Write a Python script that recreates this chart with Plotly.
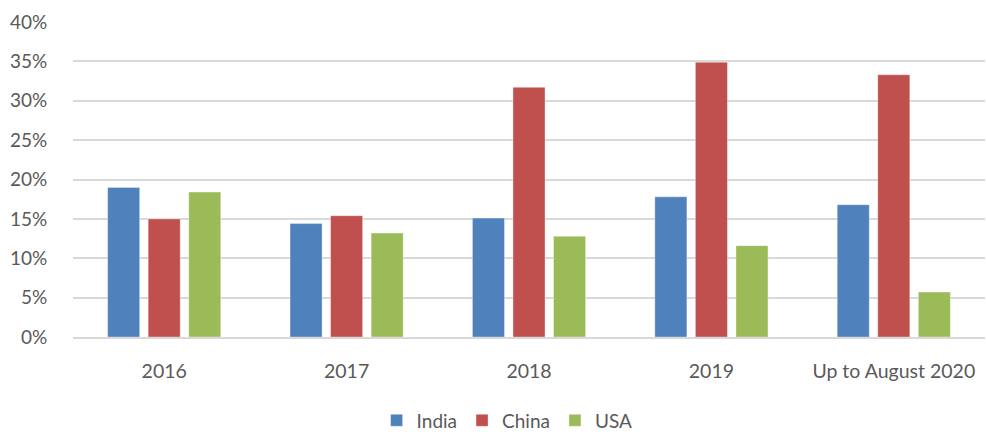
import plotly.graph_objects as go

categories = ["2016", "2017", "2018", "2019", "Up to August 2020"]
india = [19.0, 14.4, 15.1, 17.8, 16.8]
china = [15.0, 15.4, 31.7, 34.9, 33.3]
usa = [18.4, 13.2, 12.8, 11.6, 5.7]
y_ticks = [0, 5, 10, 15, 20, 25, 30, 35, 40]

series = [("India", india, "#4F81BD"), ("China", china, "#C0504D"), ("USA", usa, "#9BBB59")]

fig = go.Figure()
for name, vals, col in series:
    fig.add_trace(go.Bar(
        x=categories, y=vals, name=name,
        marker=dict(color=col, line=dict(color="rgba(255,255,255,0.35)", width=1)),
    ))

font = "Lato, 'Open Sans', sans-serif"
fig.update_layout(
    width=986, height=432,
    margin=dict(l=73, r=1, t=22, b=95, autoexpand=False),
    paper_bgcolor="white", plot_bgcolor="white",
    barmode="group", bargap=0.333, bargroupgap=0.21,
    font=dict(family=font, size=19, color="#595959"),
    showlegend=True,
    legend=dict(orientation="h", x=0.476, xanchor="center", y=-0.265, yanchor="middle",
                font=dict(size=19, color="#595959"), itemwidth=30, traceorder="normal"),
)
fig.update_xaxes(showgrid=False, showline=True, linecolor="#d9d9d9", linewidth=1.5,
                 ticks="outside", ticklen=16, tickcolor="rgba(0,0,0,0)", automargin=False,
                 tickfont=dict(size=19.5, color="#595959"))
fig.update_yaxes(range=[0, 40], tickvals=y_ticks, ticktext=[f"{v}%" for v in y_ticks],
                 showgrid=True, gridcolor="#d9d9d9", gridwidth=1.5,
                 zeroline=False, showline=False, automargin=False,
                 ticks="outside", ticklen=21, tickcolor="rgba(0,0,0,0)",
                 tickfont=dict(size=19, color="#595959"))

fig.write_html("out.html")
